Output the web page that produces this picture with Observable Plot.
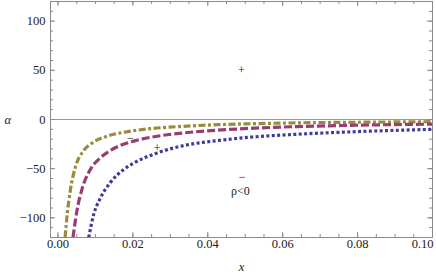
<!DOCTYPE html>
<html><head><meta charset="utf-8">
<script src="https://cdn.jsdelivr.net/npm/d3@7"></script>
<script src="https://cdn.jsdelivr.net/npm/@observablehq/plot@0.6"></script>
<style>
body{margin:0;background:#fff}
</style>
</head><body><div id="chart"></div>
<script>
// Series
const oliveX = [0.0019,0.0025,0.0033,0.0046,0.0068,0.0095,0.0131,0.0184,0.0247,0.0336,0.0425,0.0514,0.0639,0.08,0.1];
const oliveY = [-120,-95,-72,-49,-32,-23,-17,-12.5,-9.3,-6.9,-5.3,-4.3,-3.4,-2.8,-2.2];
const magentaX = [0.004,0.0051,0.0064,0.0086,0.0113,0.0149,0.0202,0.0265,0.0336,0.0425,0.0514,0.0639,0.08,0.1];
const magentaY = [-120,-92,-71,-51,-39,-29.5,-22,-17,-13.6,-10.9,-9,-7.2,-5.8,-4.7];
const blueX = [0.0082,0.0095,0.0113,0.014,0.0175,0.0211,0.0265,0.0336,0.0425,0.0514,0.0639,0.08,0.1];
const blueY = [-120,-97,-80,-64,-51,-42.5,-34,-26.5,-21.5,-18,-15,-12.3,-10];

// Annotations
const noteX = [0.049,0.0193,0.0265,0.0492,0.0487];
const noteY = [50,-19.2,-29.3,-58.3,-72.4];
const noteText = ["+","\u2212","+","\u2212","\u03c1<0"];

// Ticks
const xMajor = [0,0.02,0.04,0.06,0.08,0.10];
const xMinor = d3.range(0, 0.1001, 0.005);
const yMajor = [-100,-50,0,50,100];
const yMinor = d3.range(-120, 121, 10);

const toRows = (xs, ys) => xs.map((x, i) => ({x, y: ys[i]}));
const olive = toRows(oliveX, oliveY);
const magenta = toRows(magentaX, magentaY);
const blue = toRows(blueX, blueY);
const notes = noteX.map((x, i) => ({x, y: noteY[i], t: noteText[i]}));

const W = 436, H = 276, mL = 50, mR = 4, mT = 1, mB = 39;
const iW = W - mL - mR, iH = H - mT - mB;
const frameCol = "#8a8a8a";
const major = 5, minor = 3;
const serif = "Liberation Serif, Times New Roman, serif";

const fmtY = d => d < 0 ? "\u2212" + Math.abs(d) : String(d);
const fmtX = d3.format(".2f");
const lineOpts = {x: "x", y: "y", strokeWidth: 3.2, strokeLinecap: "butt", strokeLinejoin: "round", curve: "monotone-x", clip: true};
const txt = {fill: "#222", fontSize: 12.5, fontFamily: serif};

const plot = Plot.plot({
  width: W, height: H,
  marginLeft: mL, marginRight: mR, marginTop: mT, marginBottom: mB,
  style: {fontFamily: serif, fontSize: "12px", background: "#fff", color: "#222"},
  x: {domain: [-0.002, 0.1], axis: null},
  y: {domain: [-120, 120], axis: null},
  marks: [
    Plot.ruleY([0], {stroke: "#999", strokeWidth: 1}),
    // inward ticks: bottom
    Plot.ruleX(xMinor, {x: d => d, insetTop: iH - minor, stroke: frameCol}),
    Plot.ruleX(xMajor, {x: d => d, insetTop: iH - major, stroke: frameCol}),
    // top
    Plot.ruleX(xMinor, {x: d => d, insetBottom: iH - minor, stroke: frameCol}),
    Plot.ruleX(xMajor, {x: d => d, insetBottom: iH - major, stroke: frameCol}),
    // left
    Plot.ruleY(yMinor, {y: d => d, insetRight: iW - minor, stroke: frameCol}),
    Plot.ruleY(yMajor, {y: d => d, insetRight: iW - major, stroke: frameCol}),
    // right
    Plot.ruleY(yMinor, {y: d => d, insetLeft: iW - minor, stroke: frameCol}),
    Plot.ruleY(yMajor, {y: d => d, insetLeft: iW - major, stroke: frameCol}),
    Plot.line(olive, {...lineOpts, stroke: "#998b3d", strokeDasharray: "7,2.5,3,2.5"}),
    Plot.line(magenta, {...lineOpts, stroke: "#993d71", strokeDasharray: "8,3"}),
    Plot.line(blue, {...lineOpts, stroke: "#3d3d99", strokeDasharray: "3,2.4"}),
    Plot.text(notes, {x: "x", y: "y", text: "t", ...txt, fontSize: 12}),
    Plot.frame({stroke: frameCol}),
    Plot.text(xMajor.slice(0, -1), {x: d => d, frameAnchor: "bottom", dy: 10, text: fmtX, ...txt}),
    Plot.text(xMajor.slice(-1), {x: d => d, frameAnchor: "bottom", dy: 10, dx: 1, textAnchor: "end", text: fmtX, ...txt}),
    Plot.text(yMajor, {y: d => d, frameAnchor: "left", dx: -5, textAnchor: "end", text: fmtY, ...txt}),
    Plot.text(["\u03b1"], {frameAnchor: "left", dx: -46, fontStyle: "italic", ...txt}),
    Plot.text(["x"], {frameAnchor: "bottom", dy: 33, fontStyle: "italic", ...txt})
  ]
});
document.getElementById("chart").appendChild(plot);
</script>
</body></html>
